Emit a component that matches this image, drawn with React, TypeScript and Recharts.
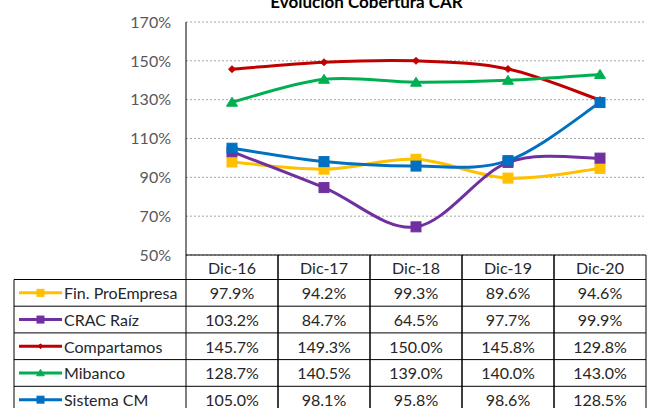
import React from 'react';
import { LineChart, Line, XAxis, YAxis, CartesianGrid } from 'recharts';

const categories = ['Dic-16', 'Dic-17', 'Dic-18', 'Dic-19', 'Dic-20'];
const finProEmpresa = [97.9, 94.2, 99.3, 89.6, 94.6];
const cracRaiz = [103.2, 84.7, 64.5, 97.7, 99.9];
const compartamos = [145.7, 149.3, 150.0, 145.8, 129.8];
const mibanco = [128.7, 140.5, 139.0, 140.0, 143.0];
const sistemaCM = [105.0, 98.1, 95.8, 98.6, 128.5];
const yTicks = [50, 70, 90, 110, 130, 150, 170];
const title = 'Evolución Cobertura CAR';

type Marker = 'square' | 'diamond' | 'triangle';
const series: { key: string; name: string; color: string; marker: Marker; values: number[] }[] = [
  { key: 'fin', name: 'Fin. ProEmpresa', color: '#FFC000', marker: 'square', values: finProEmpresa },
  { key: 'crac', name: 'CRAC Raíz', color: '#7030A0', marker: 'square', values: cracRaiz },
  { key: 'comp', name: 'Compartamos', color: '#C00000', marker: 'diamond', values: compartamos },
  { key: 'mib', name: 'Mibanco', color: '#00B050', marker: 'triangle', values: mibanco },
  { key: 'sis', name: 'Sistema CM', color: '#0070C0', marker: 'square', values: sistemaCM },
];

const data = categories.map((cat, i) => {
  const row: Record<string, any> = { cat };
  series.forEach((s) => (row[s.key] = s.values[i]));
  return row;
});

const FONT = 'Lato, "DejaVu Sans", sans-serif';
const TEXT = '#262626';

// layout constants
const W = 651;
const H = 408;
const PLOT_LEFT = 186;
const PLOT_RIGHT = 646;
const PLOT_TOP = 22;
const PLOT_BOTTOM = 255;
const COL_W = 92;
const TABLE_LEFT = 14;
const HEADER_BOTTOM = 279.5;
const ROW_H = 26.7;

// Excel-like smoothing (Catmull-Rom style bezier)
const excelCurve = (context: any) => {
  let pts: [number, number][] = [];
  return {
    areaStart() {},
    areaEnd() {},
    lineStart() {
      pts = [];
    },
    point(x: number, y: number) {
      pts.push([+x, +y]);
    },
    lineEnd() {
      if (!pts.length) return;
      context.moveTo(pts[0][0], pts[0][1]);
      for (let i = 0; i < pts.length - 1; i++) {
        const p0 = pts[i - 1] || pts[i];
        const p1 = pts[i];
        const p2 = pts[i + 1];
        const p3 = pts[i + 2] || p2;
        const c1x = p1[0] + (p2[0] - p0[0]) / 6;
        const c1y = p1[1] + (p2[1] - p0[1]) / 6;
        const c2x = p2[0] - (p3[0] - p1[0]) / 6;
        const c2y = p2[1] - (p3[1] - p1[1]) / 6;
        context.bezierCurveTo(c1x, c1y, c2x, c2y, p2[0], p2[1]);
      }
    },
  };
};

const markerShape = (m: Marker, cx: number, cy: number, color: string, size: number, key?: any) => {
  if (m === 'square') {
    return <rect key={key} x={cx - size / 2} y={cy - size / 2} width={size} height={size} fill={color} stroke={color} strokeWidth={1} />;
  }
  if (m === 'diamond') {
    const r = size / 2;
    return <path key={key} d={`M${cx},${cy - r}L${cx + r},${cy}L${cx},${cy + r}L${cx - r},${cy}Z`} fill={color} stroke={color} />;
  }
  const r = size / 2;
  return (
    <path key={key} d={`M${cx},${cy - r}L${cx + r * 1.1},${cy + r * 0.8}L${cx - r * 1.1},${cy + r * 0.8}Z`} fill={color} stroke={color} />
  );
};

const markerSizes: Record<Marker, number> = { square: 10, diamond: 7, triangle: 10 };

const TableTick = (props: any) => {
  const { x, payload } = props;
  const ci = categories.indexOf(payload.value);
  const rowTop = (r: number) => HEADER_BOTTOM + r * ROW_H;
  const nRows = series.length;
  const bottom = rowTop(nRows);
  const els: any[] = [];
  // column vertical lines
  els.push(<line key="vl" x1={x - COL_W / 2} x2={x - COL_W / 2} y1={PLOT_BOTTOM} y2={bottom} stroke="#000" />);
  els.push(<line key="vr" x1={x + COL_W / 2} x2={x + COL_W / 2} y1={PLOT_BOTTOM} y2={bottom} stroke="#000" />);
  els.push(
    <text key="h" x={x} y={(PLOT_BOTTOM + HEADER_BOTTOM) / 2} textAnchor="middle" dominantBaseline="central" fontSize={16} fontFamily={FONT} fill={TEXT}>
      {payload.value}
    </text>
  );
  series.forEach((s, r) => {
    els.push(
      <text key={'v' + r} x={x} y={rowTop(r) + ROW_H / 2} textAnchor="middle" dominantBaseline="central" fontSize={16} fontFamily={FONT} fill={TEXT}>
        {s.values[ci].toFixed(1) + '%'}
      </text>
    );
  });
  if (ci === 0) {
    // horizontal row lines and legend column
    for (let r = 0; r <= nRows; r++) {
      els.push(<line key={'hl' + r} x1={TABLE_LEFT} x2={PLOT_RIGHT} y1={rowTop(r)} y2={rowTop(r)} stroke="#000" />);
    }
    els.push(<line key="tl" x1={TABLE_LEFT} x2={TABLE_LEFT} y1={HEADER_BOTTOM} y2={bottom} stroke="#000" />);
    series.forEach((s, r) => {
      const cy = rowTop(r) + ROW_H / 2;
      els.push(<line key={'ll' + r} x1={19} x2={62} y1={cy} y2={cy} stroke={s.color} strokeWidth={3} />);
      els.push(markerShape(s.marker, 40.5, cy, s.color, s.marker === 'diamond' ? 5 : 7, 'lm' + r));
      els.push(
        <text key={'ln' + r} x={64} y={cy} dominantBaseline="central" fontSize={16} fontFamily={FONT} fill={TEXT}>
          {s.name}
        </text>
      );
    });
  }
  return <g>{els}</g>;
};

export default function App() {
  return (
    <div style={{ position: 'absolute', left: 0, top: 0, width: W, height: H, background: '#fff' }}>
      <LineChart
        width={W}
        height={H}
        data={data}
        margin={{ top: PLOT_TOP, right: W - PLOT_RIGHT, bottom: 0, left: 0 }}
      >
        <CartesianGrid vertical={false} stroke="#a6a6a6" strokeDasharray="2 2" />
        <XAxis
          dataKey="cat"
          interval={0}
          height={H - PLOT_BOTTOM}
          padding={{ left: COL_W / 2, right: COL_W / 2 }}
          axisLine={{ stroke: '#000' }}
          tickLine={false}
          tick={<TableTick />}
        />
        <YAxis
          width={PLOT_LEFT}
          domain={[50, 170]}
          ticks={yTicks}
          tickFormatter={(v: number) => `${v}%`}
          axisLine={{ stroke: '#000' }}
          tickLine={false}
          tickSize={0}
          tickMargin={15}
          tick={{ fill: '#595959', fontSize: 16, fontFamily: FONT }}
          interval={0}
        />
        {series.map((s) => (
          <Line
            key={s.key}
            dataKey={s.key}
            name={s.name}
            type={excelCurve as any}
            stroke={s.color}
            strokeWidth={3}
            isAnimationActive={false}
            dot={(p: any) => markerShape(s.marker, p.cx, p.cy, s.color, markerSizes[s.marker], `${s.key}-${p.index}`)}
            activeDot={false}
          />
        ))}
      </LineChart>
      <svg width={W} height={30} style={{ position: 'absolute', left: 0, top: 0, pointerEvents: 'none' }}>
        <text x={366.5} y={8} textAnchor="middle" fontSize={17} fontWeight="bold" fontFamily={FONT} fill="#000">
          {title}
        </text>
      </svg>
    </div>
  );
}
